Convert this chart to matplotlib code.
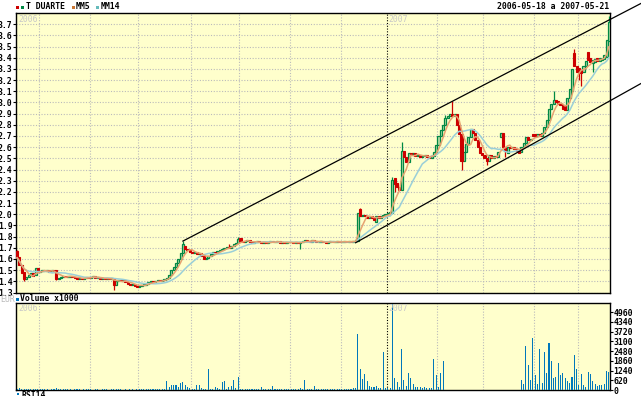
import matplotlib
matplotlib.use('Agg')
import matplotlib.pyplot as plt
import numpy as np
import pandas as pd
from matplotlib.patches import Rectangle

# ---------------- data ----------------
holidays = ['2006-12-25', '2007-01-01', '2007-04-06', '2007-04-09', '2007-05-01']

close_may06 = [1.61, 1.55, 1.47, 1.42, 1.44, 1.46, 1.47, 1.45, 1.52, 1.48]
open_may06 = [1.67, 1.62, 1.55, 1.48, 1.42, 1.44, 1.46, 1.47, 1.46, 1.52]
close_jun06 = [1.49, 1.50, 1.49, 1.50, 1.48, 1.50, 1.49, 1.42, 1.43, 1.44, 1.45, 1.44, 1.44, 1.45, 1.44, 1.43, 1.42, 1.43, 1.42, 1.43, 1.44, 1.43]
open_jun06 = [1.48, 1.49, 1.50, 1.49, 1.50, 1.48, 1.50, 1.50, 1.42, 1.43, 1.44, 1.45, 1.44, 1.44, 1.45, 1.44, 1.43, 1.42, 1.43, 1.42, 1.43, 1.44]
close_jul06 = [1.44, 1.45, 1.43, 1.43, 1.42, 1.43, 1.42, 1.43, 1.42, 1.42, 1.37, 1.40, 1.41, 1.40, 1.41, 1.39, 1.38, 1.37, 1.38, 1.36, 1.35]
open_jul06 = [1.43, 1.44, 1.45, 1.43, 1.43, 1.42, 1.43, 1.42, 1.43, 1.42, 1.42, 1.37, 1.40, 1.41, 1.40, 1.41, 1.39, 1.38, 1.37, 1.38, 1.36]
close_aug06 = [1.36, 1.37, 1.37, 1.38, 1.39, 1.40, 1.39, 1.40, 1.41, 1.40, 1.41, 1.42, 1.43, 1.46, 1.50, 1.53, 1.56, 1.60, 1.65, 1.73, 1.69, 1.68, 1.66]
open_aug06 = [1.35, 1.36, 1.37, 1.37, 1.38, 1.39, 1.40, 1.39, 1.40, 1.41, 1.40, 1.41, 1.42, 1.43, 1.46, 1.50, 1.53, 1.56, 1.60, 1.65, 1.72, 1.69, 1.68]
close_sep06 = [1.65, 1.66, 1.64, 1.65, 1.63, 1.60, 1.61, 1.63, 1.64, 1.66, 1.65, 1.67, 1.68, 1.69, 1.70, 1.71, 1.70, 1.72, 1.73, 1.74, 1.78]
open_sep06 = [1.66, 1.65, 1.66, 1.64, 1.65, 1.63, 1.60, 1.61, 1.63, 1.64, 1.66, 1.65, 1.67, 1.68, 1.69, 1.70, 1.71, 1.70, 1.72, 1.73, 1.74]
close_oct06 = [1.76, 1.75, 1.76, 1.77, 1.75, 1.74, 1.75, 1.76, 1.75, 1.74, 1.75, 1.74, 1.75, 1.76, 1.75, 1.75, 1.76, 1.74, 1.75, 1.74, 1.75, 1.75]
open_oct06 = [1.79, 1.76, 1.75, 1.76, 1.77, 1.75, 1.74, 1.75, 1.76, 1.75, 1.74, 1.75, 1.74, 1.75, 1.76, 1.75, 1.75, 1.76, 1.74, 1.75, 1.74, 1.75]
close_nov06 = [1.75, 1.74, 1.75, 1.74, 1.75, 1.76, 1.77, 1.76, 1.75, 1.77, 1.76, 1.75, 1.75, 1.76, 1.75, 1.74, 1.75, 1.76, 1.75, 1.75, 1.76, 1.75]
open_nov06 = [1.75, 1.75, 1.74, 1.75, 1.74, 1.75, 1.76, 1.77, 1.76, 1.75, 1.77, 1.76, 1.75, 1.75, 1.76, 1.75, 1.74, 1.75, 1.76, 1.75, 1.75, 1.76]
close_dec06 = [1.75, 1.76, 1.75, 1.76, 1.75, 1.76, 1.76, 2.01, 1.98, 1.99, 1.98, 1.97, 1.98, 1.97, 1.95, 1.98, 1.97, 1.98, 1.99, 2.00]
open_dec06 = [1.75, 1.75, 1.76, 1.75, 1.76, 1.75, 1.76, 1.76, 2.05, 1.98, 1.99, 1.98, 1.97, 1.98, 1.97, 1.93, 1.98, 1.97, 1.98, 1.99]
close_jan07 = [2.01, 2.01, 2.31, 2.27, 2.24, 2.22, 2.57, 2.51, 2.47, 2.55, 2.54, 2.55, 2.52, 2.53, 2.51, 2.52, 2.53, 2.51, 2.50, 2.52, 2.56, 2.62]
open_jan07 = [2.00, 2.01, 2.01, 2.32, 2.28, 2.24, 2.22, 2.57, 2.51, 2.47, 2.55, 2.54, 2.55, 2.52, 2.53, 2.51, 2.52, 2.53, 2.51, 2.50, 2.52, 2.56]
close_feb07 = [2.70, 2.75, 2.80, 2.86, 2.88, 2.90, 2.88, 2.90, 2.80, 2.72, 2.48, 2.56, 2.63, 2.69, 2.76, 2.73, 2.66, 2.60, 2.55, 2.53]
open_feb07 = [2.62, 2.70, 2.75, 2.80, 2.86, 2.88, 2.90, 2.88, 2.90, 2.80, 2.72, 2.48, 2.56, 2.63, 2.69, 2.76, 2.73, 2.66, 2.60, 2.55]
close_mar07 = [2.50, 2.48, 2.53, 2.50, 2.52, 2.51, 2.56, 2.73, 2.60, 2.57, 2.60, 2.59, 2.60, 2.58, 2.57, 2.55, 2.60, 2.64, 2.69, 2.66, 2.67, 2.70]
open_mar07 = [2.53, 2.50, 2.48, 2.53, 2.50, 2.52, 2.51, 2.69, 2.73, 2.60, 2.55, 2.60, 2.59, 2.60, 2.58, 2.58, 2.56, 2.60, 2.64, 2.69, 2.66, 2.72]
close_apr07 = [2.70, 2.72, 2.70, 2.73, 2.78, 2.84, 2.94, 2.99, 3.02, 3.00, 2.99, 2.98, 2.94, 2.93, 3.04, 3.12, 3.30, 3.33, 3.27]
open_apr07 = [2.72, 2.70, 2.72, 2.70, 2.73, 2.78, 2.84, 2.94, 2.99, 3.02, 3.01, 2.99, 2.98, 2.97, 2.93, 3.04, 3.10, 3.44, 3.33]
close_may07 = [3.28, 3.26, 3.33, 3.37, 3.38, 3.36, 3.38, 3.39, 3.37, 3.40, 3.39, 3.42, 3.56, 3.72]
open_may07 = [3.31, 3.29, 3.27, 3.33, 3.45, 3.40, 3.35, 3.36, 3.40, 3.37, 3.38, 3.39, 3.41, 3.55]

# visible wick extremes (day index -> price)
wick_high = {0: 1.68, 72: 1.76, 92: 1.73, 96: 1.80, 149: 2.06, 163: 2.33, 167: 2.65,
             186: 2.89, 189: 3.01, 233: 3.10, 242: 3.48, 257: 3.77}
wick_low = {3: 1.40, 17: 1.41, 42: 1.32, 123: 1.69, 164: 2.20, 193: 2.40, 204: 2.44,
            212: 2.51, 244: 3.20, 245: 3.15, 250: 3.27}

vol_may06 = [60, 110, 90, 50, 80, 70, 40, 60, 40, 50]
vol_jun06 = [40, 50, 60, 40, 30, 50, 40, 120, 60, 50, 40, 60, 50, 40, 30, 40, 50, 40, 30, 40, 50, 40]
vol_jul06 = [40, 30, 50, 40, 30, 40, 50, 40, 30, 40, 90, 40, 50, 40, 30, 40, 30, 50, 40, 30, 50]
vol_aug06 = [50, 80, 40, 50, 60, 40, 50, 60, 50, 40, 60, 80, 570, 210, 320, 320, 320, 210, 420, 490, 320, 200, 100]
vol_sep06 = [60, 80, 320, 320, 100, 60, 80, 1340, 60, 80, 200, 130, 60, 490, 570, 60, 210, 270, 640, 100, 800]
vol_oct06 = [80, 60, 50, 70, 40, 60, 50, 40, 60, 210, 50, 40, 60, 50, 250, 60, 40, 50, 60, 40, 50, 60]
vol_nov06 = [50, 60, 40, 50, 120, 60, 640, 60, 40, 50, 250, 60, 40, 50, 60, 40, 50, 40, 60, 50, 40, 60]
vol_dec06 = [50, 60, 40, 50, 60, 100, 150, 3570, 1340, 700, 1020, 575, 275, 170, 200, 250, 100, 100, 2420, 100]
vol_jan07 = [100, 100, 5510, 785, 530, 200, 2610, 640, 275, 1100, 785, 360, 200, 200, 180, 150, 200, 150, 120, 100, 1975, 955]
vol_feb07 = [210, 1100, 1865, 20, 15, 20, 15, 20, 15, 15, 20, 15, 20, 15, 20, 15, 15, 20, 15, 20]
vol_mar07 = [15, 20, 15, 20, 15, 15, 20, 15, 20, 15, 20, 15, 15, 20, 15, 20, 640, 360, 2800, 1590, 640, 3330]
vol_apr07 = [955, 380, 2610, 470, 2420, 1100, 3010, 1850, 745, 850, 1720, 955, 1060, 745, 575, 425, 850, 2230, 1340]
vol_may07 = [320, 1020, 320, 200, 1130, 1020, 575, 380, 275, 320, 320, 360, 1210, 1145]

price_ticks = [1.3, 1.4, 1.5, 1.6, 1.7, 1.8, 1.9, 2.0, 2.1, 2.2, 2.3, 2.4, 2.5,
               2.6, 2.7, 2.8, 2.9, 3.0, 3.1, 3.2, 3.3, 3.4, 3.5, 3.6, 3.7]
vol_ticks = [0, 620, 1240, 1860, 2480, 3100, 3720, 4340, 4960]

# trend lines: two anchor points (day index, price) each
trend_upper = [(72, 1.76), (189, 3.01)]
trend_lower = [(147, 1.745), (204, 2.40)]

title_left = 'T DUARTE'
title_right = '2006-05-18 a 2007-05-21'

# ---------------- assemble ----------------
closes = np.array(close_may06 + close_jun06 + close_jul06 + close_aug06 + close_sep06 + close_oct06 +
                  close_nov06 + close_dec06 + close_jan07 + close_feb07 + close_mar07 + close_apr07 + close_may07)
opens = np.array(open_may06 + open_jun06 + open_jul06 + open_aug06 + open_sep06 + open_oct06 +
                 open_nov06 + open_dec06 + open_jan07 + open_feb07 + open_mar07 + open_apr07 + open_may07)
volumes = np.array(vol_may06 + vol_jun06 + vol_jul06 + vol_aug06 + vol_sep06 + vol_oct06 +
                   vol_nov06 + vol_dec06 + vol_jan07 + vol_feb07 + vol_mar07 + vol_apr07 + vol_may07)

dates = pd.bdate_range('2006-05-18', '2007-05-21')
dates = dates[~dates.isin(pd.to_datetime(holidays))]
n = min(len(dates), len(closes), len(opens), len(volumes))
dates = dates[:n]; closes = closes[:n]; opens = opens[:n]; volumes = volumes[:n]
idx = np.arange(n)

highs = np.maximum(opens, closes)
lows = np.minimum(opens, closes)
for k, v in wick_high.items():
    if k < n:
        highs[k] = max(highs[k], v)
for k, v in wick_low.items():
    if k < n:
        lows[k] = min(lows[k], v)

mm5 = pd.Series(closes).rolling(5, min_periods=1).mean()
mm14 = pd.Series(closes).rolling(14, min_periods=1).mean()

month_starts = [i for i in range(1, n) if dates[i].month != dates[i - 1].month]
year_start = [i for i in range(1, n) if dates[i].year != dates[i - 1].year]

# ---------------- figure ----------------
W, H = 641, 396
fig = plt.figure(figsize=(W / 100, H / 100), dpi=100)
fig.patch.set_facecolor('white')

def fx(px):
    return px / W

def fy(py):
    return 1 - py / H

BG = '#FFFFCC'
GREEN = '#008844'
GREEN_FILL = '#B9DDA6'
RED = '#CC0000'
GRID = '#BBBBBB'
FONT = 'DejaVu Sans Mono'
FS = 5.9
FW = 'bold'

ax = fig.add_axes([fx(16), fy(292.5), fx(610) - fx(16), fy(13) - fy(292.5)])
axv = fig.add_axes([fx(16), fy(390), fx(610) - fx(16), fy(302.5) - fy(390)])

for a in (ax, axv):
    a.set_facecolor(BG)
    a.set_xlim(-0.5, n - 0.5)
    for s in a.spines.values():
        s.set_color('black')
        s.set_linewidth(1.0)
    a.set_xticks([])
    for m in month_starts:
        if m in year_start:
            a.axvline(m - 0.5, color='black', lw=0.8, linestyle=(0, (1, 1.5)), zorder=1)
        else:
            a.axvline(m - 0.5, color=GRID, lw=0.8, linestyle=(0, (1, 1.5)), zorder=1)

# main panel
ax.set_ylim(1.3, 3.8)
ax.set_yticks(price_ticks)
ax.set_yticklabels([f'{t:.1f}' for t in price_ticks], fontsize=FS, family=FONT, fontweight=FW)
ax.tick_params(axis='y', direction='out', length=2, width=0.8, pad=0.5)
for t in price_ticks:
    ax.axhline(t, color=GRID, lw=0.8, linestyle=(0, (1, 1.5)), zorder=1)

up = closes >= opens
body_bot = np.minimum(opens, closes)
body_h = np.maximum(np.abs(closes - opens), 0.006)
wick_colors = np.where(up, GREEN, RED)
ax.vlines(idx, lows, highs, colors=wick_colors, lw=0.9, zorder=3)
ax.bar(idx[up], body_h[up], bottom=body_bot[up], width=0.9, facecolor=GREEN_FILL,
       edgecolor=GREEN, linewidth=0.9, zorder=4)
ax.bar(idx[~up], body_h[~up], bottom=body_bot[~up], width=0.9, facecolor=RED,
       edgecolor=RED, linewidth=0.8, zorder=4)

ax.plot(idx, mm14, color='#9ACFD8', lw=1.1, zorder=5)
ax.plot(idx, mm5, color='#E6A371', lw=1.1, zorder=5)

x_end = n - 0.5 + (641 - 610) / ((610 - 16) / n)
for tl in (trend_upper, trend_lower):
    (x0, y0), (x1, y1) = tl
    s = (y1 - y0) / (x1 - x0)
    ax.plot([x0, x_end], [y0, y0 + s * (x_end - x0)], color='black', lw=0.9,
            clip_on=False, zorder=6)

# volume panel
axv.set_ylim(0, 5580)
axv.bar(idx, volumes, width=0.45, color='#0077BB', zorder=3)
axv.yaxis.tick_right()
axv.set_yticks(vol_ticks)
axv.set_yticklabels([str(v) for v in vol_ticks], fontsize=FS, family=FONT, fontweight=FW)
axv.tick_params(axis='y', direction='out', length=2, width=0.8, pad=0.5)

# ---------------- texts ----------------
def square(px, py, color, size=3):
    fig.patches.append(Rectangle((fx(px), fy(py + size)), size / W, size / H,
                                 transform=fig.transFigure, facecolor=color,
                                 edgecolor='none', figure=fig))

square(16, 5.7, RED)
square(20.5, 5.7, GREEN)
fig.text(fx(26.5), fy(9.3), title_left, fontsize=FS, family=FONT, fontweight=FW, va='baseline')
square(71.5, 5.7, '#CC7733')
fig.text(fx(76), fy(9.3), 'MM5', fontsize=FS, family=FONT, fontweight=FW, va='baseline')
square(96.5, 5.7, '#66BBBB')
fig.text(fx(100.5), fy(9.3), 'MM14', fontsize=FS, family=FONT, fontweight=FW, va='baseline')
fig.text(fx(609), fy(8.8), title_right, fontsize=FS, family=FONT, fontweight=FW,
         va='baseline', ha='right')

year_x = [(-0.5, '2006')] + [(y - 0.5, str(dates[y].year)) for y in year_start]
for a in (ax, axv):
    for xv, lab in year_x:
        a.annotate(lab, xy=(xv, 1), xycoords=('data', 'axes fraction'),
                   xytext=(1.5, -1.2), textcoords='offset points', ha='left', va='top',
                   fontsize=FS, family=FONT, color='#C8C8C8', zorder=7)

fig.text(fx(0), fy(302), 'EUR', fontsize=FS, family=FONT, va='baseline', color='#BBBBBB')
square(16, 297.7, '#0077BB')
fig.text(fx(20.5), fy(301), 'Volume x1000', fontsize=FS, family=FONT, fontweight=FW, va='baseline')
square(17, 392.5, '#0077BB', size=2)
fig.text(fx(21), fy(391.5), 'RSI14', fontsize=FS, family=FONT, fontweight=FW, va='top')

fig.savefig('out.png', dpi=100, facecolor='white')
